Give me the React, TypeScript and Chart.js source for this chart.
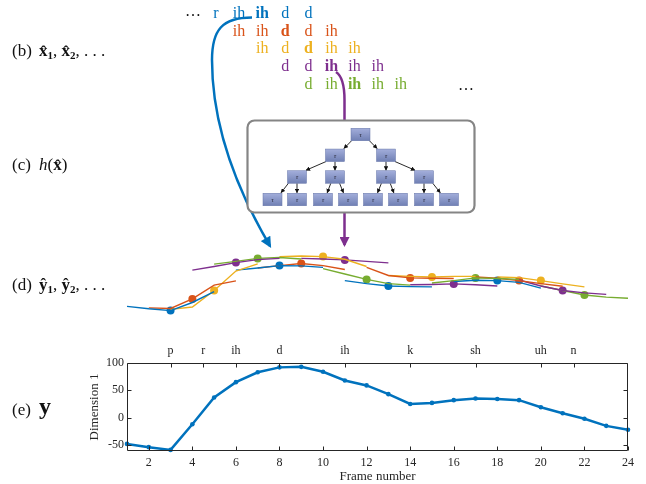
import { useEffect, useRef } from 'react';
import { Chart, registerables } from 'chart.js';

Chart.register(...registerables);

// ---------- (e) panel data ----------
const FRAMES = [1, 2, 3, 4, 5, 6, 7, 8, 9, 10, 11, 12, 13, 14, 15, 16, 17, 18, 19, 20, 21, 22, 23, 24];
const DIM1 = [-48, -54, -59, -12, 37, 65, 83, 92, 93, 84, 68, 59, 43, 25, 27, 32, 35, 34, 32, 19, 8, -2, -15, -22];
const X_TICKS = [2, 4, 6, 8, 10, 12, 14, 16, 18, 20, 22, 24];
const Y_TICKS = [-50, 0, 50, 100];
const PHONE_LABELS = ['p', 'r', 'ih', 'd', 'ih', 'k', 'sh', 'uh', 'n'];
const PHONE_FRAMES = [3, 4.5, 6, 8, 11, 14, 17, 20, 21.5];

// ---------- (d) panel data: predicted 5-frame segments centred on each frame ----------
const PRED_CENTERS = [3, 4, 5, 6, 7, 8, 9, 10, 11, 12, 13, 14, 15, 16, 17, 18, 19, 20, 21, 22];
const PRED_SEGMENTS = [
  [-44, -52, -58, -31, 5],
  [-49, -51, -19, 27, 41],
  [-54, -46, 9, 74, 98],
  [77, 89, 102, 112, 116],
  [97, 106, 116, 119, 114],
  [77, 84, 92, 91, 86],
  [84, 92, 99, 92, 79],
  [122, 124, 122, 113, 89],
  [116, 114, 111, 106, 101],
  [82, 64, 46, 32, 27],
  [42, 32, 24, 22, 21],
  [86, 59, 51, 50, 49],
  [59, 56, 54, 56, 56],
  [28, 29, 31, 28, 24],
  [34, 42, 51, 49, 46],
  [39, 43, 42, 36, 17],
  [54, 50, 42, 32, 23],
  [54, 52, 42, 31, 21],
  [44, 24, 9, 1, -4],
  [24, 9, -6, -13, -17],
];

// ---------- (b) panel text ----------
const ROW_PHONES = [
  ['r', 'ih', 'ih', 'd', 'd'],
  ['ih', 'ih', 'd', 'd', 'ih'],
  ['ih', 'd', 'd', 'ih', 'ih'],
  ['d', 'd', 'ih', 'ih', 'ih'],
  ['d', 'ih', 'ih', 'ih', 'ih'],
];

const COLORS = ['#0072BD', '#D95319', '#EDB120', '#7E2F8E', '#77AC30'];
const SERIF = "'Liberation Serif', 'Times New Roman', serif";
const AX = '#262626';

// tree layout (diagram only)
const NODE_W = 19;
const NODE_H = 12.5;
const TREE_LEVELS: number[][][] = [
  [[360.5, 134.5]],
  [[335, 155.3], [386, 155.3]],
  [[297, 177], [335, 177], [386, 177], [424, 177]],
  [[272.5, 199.5], [297, 199.5], [323, 199.5], [348, 199.5], [373, 199.5], [398, 199.5], [424, 199.5], [449, 199.5]],
];

const boxPlugin = {
  id: 'matlabBox',
  afterDraw(chart: any) {
    const { ctx, chartArea: a, scales } = chart;
    ctx.save();
    ctx.strokeStyle = AX;
    ctx.lineWidth = 1;
    const L = Math.round(a.left) + 0.5;
    const R = Math.round(a.right) - 0.5;
    const T = Math.round(a.top) + 0.5;
    const B = Math.round(a.bottom) - 0.5;
    ctx.beginPath();
    ctx.rect(L, T, R - L, B - T);
    const tl = 4;
    X_TICKS.forEach((v) => {
      const px = Math.round(scales.x.getPixelForValue(v)) + 0.5;
      ctx.moveTo(px, B);
      ctx.lineTo(px, B - tl);
    });
    PHONE_FRAMES.forEach((v) => {
      const px = Math.round(scales.xTop.getPixelForValue(v)) + 0.5;
      ctx.moveTo(px, T);
      ctx.lineTo(px, T + tl);
    });
    Y_TICKS.forEach((v) => {
      const py = Math.round(scales.y.getPixelForValue(v)) + 0.5;
      ctx.moveTo(L, py);
      ctx.lineTo(L + tl, py);
      ctx.moveTo(R, py);
      ctx.lineTo(R - tl, py);
    });
    ctx.stroke();
    ctx.restore();
  },
};

export default function App() {
  const dRef = useRef<HTMLCanvasElement>(null);
  const eRef = useRef<HTMLCanvasElement>(null);

  useEffect(() => {
    const segDatasets: any[] = PRED_SEGMENTS.map((vals, k) => ({
      data: vals.map((y, i) => ({ x: PRED_CENTERS[k] - 2 + i, y })),
      borderColor: COLORS[k % 5],
      backgroundColor: COLORS[k % 5],
      borderWidth: 1.4,
      pointRadius: 0,
      tension: 0,
      clip: false,
    }));
    segDatasets.push({
      data: PRED_CENTERS.map((c, k) => ({ x: c, y: PRED_SEGMENTS[k][2] })),
      showLine: false,
      pointRadius: 4,
      pointBorderWidth: 0,
      pointBackgroundColor: PRED_CENTERS.map((_, k) => COLORS[k % 5]),
      borderColor: 'transparent',
      clip: false,
    });

    const dChart = new Chart(dRef.current as HTMLCanvasElement, {
      type: 'line',
      data: { datasets: segDatasets },
      options: {
        animation: false,
        responsive: false,
        devicePixelRatio: 1,
        layout: { padding: { left: 127, right: 18, top: 0, bottom: 0 } },
        plugins: { legend: { display: false }, tooltip: { enabled: false } },
        scales: {
          x: { type: 'linear', min: 1, max: 24, display: false },
          y: { type: 'linear', min: -76, max: 164, display: false },
        },
      },
    } as any);

    const tickFont = { family: SERIF, size: 12 };
    const eChart = new Chart(eRef.current as HTMLCanvasElement, {
      type: 'line',
      data: {
        datasets: [
          {
            data: FRAMES.map((f, i) => ({ x: f, y: DIM1[i] })),
            borderColor: COLORS[0],
            backgroundColor: COLORS[0],
            borderWidth: 2.5,
            pointRadius: 2.3,
            pointBorderWidth: 0,
            tension: 0,
            clip: false,
            xAxisID: 'x',
            yAxisID: 'y',
          },
        ],
      },
      options: {
        animation: false,
        responsive: false,
        devicePixelRatio: 1,
        layout: { padding: { left: 0, right: 18, top: 0, bottom: 0 } },
        plugins: { legend: { display: false }, tooltip: { enabled: false } },
        scales: {
          x: {
            type: 'linear',
            position: 'bottom',
            min: 1,
            max: 24,
            grid: { display: false, drawTicks: false },
            border: { display: false },
            ticks: { padding: 5, font: tickFont, color: AX, maxRotation: 0, autoSkip: false },
            afterBuildTicks: (s: any) => {
              s.ticks = X_TICKS.map((v) => ({ value: v }));
            },
            afterFit: (s: any) => {
              s.height = 33;
            },
            title: {
              display: true,
              text: 'Frame number',
              font: { family: SERIF, size: 13 },
              color: AX,
              padding: { top: 0, bottom: 0 },
            },
          },
          xTop: {
            type: 'linear',
            position: 'top',
            min: 1,
            max: 24,
            grid: { display: false, drawTicks: false },
            border: { display: false },
            ticks: {
              padding: 5,
              font: tickFont,
              color: AX,
              maxRotation: 0,
              autoSkip: false,
              callback: (v: any) => {
                const i = PHONE_FRAMES.indexOf(Number(v));
                return i >= 0 ? PHONE_LABELS[i] : '';
              },
            },
            afterBuildTicks: (s: any) => {
              s.ticks = PHONE_FRAMES.map((v) => ({ value: v }));
            },
            afterFit: (s: any) => {
              s.height = 23;
            },
          },
          y: {
            type: 'linear',
            position: 'left',
            min: -61,
            max: 100,
            grid: { display: false, drawTicks: false },
            border: { display: false },
            ticks: { padding: 3, font: tickFont, color: AX },
            afterBuildTicks: (s: any) => {
              s.ticks = Y_TICKS.map((v) => ({ value: v }));
            },
            afterFit: (s: any) => {
              s.width = 127;
            },
            title: {
              display: true,
              text: 'Dimension 1',
              font: { family: SERIF, size: 13 },
              color: AX,
              padding: { top: 87, bottom: 0 },
            },
          },
        },
      },
      plugins: [boxPlugin],
    } as any);

    return () => {
      dChart.destroy();
      eChart.destroy();
    };
  }, []);

  const colX = (i: number) => 216 + 23.1 * i;
  const rowY = (k: number) => 18.2 + 17.6 * k;

  const edges: { x1: number; y1: number; x2: number; y2: number }[] = [];
  for (let l = 0; l < TREE_LEVELS.length - 1; l++) {
    TREE_LEVELS[l].forEach((p, pi) => {
      [TREE_LEVELS[l + 1][pi * 2], TREE_LEVELS[l + 1][pi * 2 + 1]].forEach((c) => {
        const dx = c[0] - p[0];
        const shift = Math.sign(dx) * Math.min(9, Math.abs(dx) * 0.35);
        edges.push({ x1: p[0] + shift, y1: p[1] + NODE_H / 2, x2: c[0] - shift, y2: c[1] - NODE_H / 2 - 0.5 });
      });
    });
  }

  return (
    <div style={{ position: 'absolute', left: 0, top: 0, width: 646, height: 484, background: '#fff', overflow: 'hidden' }}>
      <canvas ref={dRef} width={646} height={80} style={{ position: 'absolute', left: 0, top: 240, width: 646, height: 80 }} />
      <canvas ref={eRef} width={646} height={144} style={{ position: 'absolute', left: 0, top: 340, width: 646, height: 144 }} />
      <svg
        width={646}
        height={484}
        style={{ position: 'absolute', left: 0, top: 0, pointerEvents: 'none' }}
        fontFamily={SERIF}
      >
        <defs>
          <marker id="arrBlue" viewBox="0 0 10 10" refX="8" refY="5" markerWidth="12" markerHeight="11" markerUnits="userSpaceOnUse" orient="auto">
            <path d="M0,0 L10,5 L0,10 z" fill="#0072BD" />
          </marker>
          <marker id="arrPurple" viewBox="0 0 10 10" refX="8" refY="5" markerWidth="11" markerHeight="10" markerUnits="userSpaceOnUse" orient="auto">
            <path d="M0,0 L10,5 L0,10 z" fill="#7E2F8E" />
          </marker>
          <marker id="arrBlack" viewBox="0 0 10 10" refX="9" refY="5" markerWidth="4.5" markerHeight="4.5" markerUnits="userSpaceOnUse" orient="auto">
            <path d="M0,0 L10,5 L0,10 z" fill="#111" />
          </marker>
          <linearGradient id="nodeGrad" x1="0" y1="0" x2="0" y2="1">
            <stop offset="0" stopColor="#a3aedb" />
            <stop offset="1" stopColor="#7080b4" />
          </linearGradient>
        </defs>

        {/* left panel labels */}
        <text x={12} y={56} fontSize={17} fill="#111">(b)</text>
        <text x={39} y={56} fontSize={17} fill="#111">
          <tspan fontWeight="bold">{'x\u0302'}</tspan>
          <tspan fontWeight="bold" fontSize={11} dy={3}>1</tspan>
          <tspan dy={-3}>, </tspan>
          <tspan fontWeight="bold">{'x\u0302'}</tspan>
          <tspan fontWeight="bold" fontSize={11} dy={3}>2</tspan>
          <tspan dy={-3}>, . . .</tspan>
        </text>
        <text x={12} y={170} fontSize={17} fill="#111">(c)</text>
        <text x={39} y={170} fontSize={17} fill="#111">
          <tspan fontStyle="italic">h</tspan>
          <tspan>(</tspan>
          <tspan fontWeight="bold">{'x\u0302'}</tspan>
          <tspan>)</tspan>
        </text>
        <text x={12} y={290} fontSize={17} fill="#111">(d)</text>
        <text x={39} y={290} fontSize={17} fill="#111">
          <tspan fontWeight="bold">{'\u0177'}</tspan>
          <tspan fontWeight="bold" fontSize={11} dy={3}>1</tspan>
          <tspan dy={-3}>, </tspan>
          <tspan fontWeight="bold">{'\u0177'}</tspan>
          <tspan fontWeight="bold" fontSize={11} dy={3}>2</tspan>
          <tspan dy={-3}>, . . .</tspan>
        </text>
        <text x={12} y={415} fontSize={17} fill="#111">(e)</text>
        <text x={39} y={414} fontSize={24} fontWeight="bold" fill="#111">y</text>

        {/* (b) phone rows */}
        <text x={185} y={15.5} fontSize={16} fill="#111">{'\u2026'}</text>
        {ROW_PHONES.map((row, k) =>
          row.map((ph, i) => (
            <text
              key={`${k}-${i}`}
              x={colX(k + i)}
              y={rowY(k)}
              fontSize={16}
              textAnchor="middle"
              fontWeight={i === 2 ? 'bold' : 'normal'}
              fill={COLORS[k]}
            >
              {ph}
            </text>
          ))
        )}
        <text x={458} y={90} fontSize={16} fill="#111">{'\u2026'}</text>

        {/* arrows from phones to predictions */}
        <path d="M 252 17.5 C 222 17.5 212 30 212 60 C 212 130 240 195 270 246" stroke="#0072BD" strokeWidth={2.5} fill="none" markerEnd="url(#arrBlue)" />
        <path d="M 336 72 C 342 76 344.5 86 344.5 100 L 344.5 245" stroke="#7E2F8E" strokeWidth={2.5} fill="none" markerEnd="url(#arrPurple)" />

        {/* (c) tree box */}
        <rect x={247.5} y={120.5} width={227} height={92} rx={7} ry={7} fill="#fff" stroke="#858585" strokeWidth={2.2} />
        {edges.map((e, i) => (
          <line key={`e${i}`} x1={e.x1} y1={e.y1} x2={e.x2} y2={e.y2} stroke="#111" strokeWidth={0.9} markerEnd="url(#arrBlack)" />
        ))}
        {TREE_LEVELS.flat().map((n, i) => (
          <g key={`n${i}`}>
            <rect x={n[0] - NODE_W / 2} y={n[1] - NODE_H / 2} width={NODE_W} height={NODE_H} fill="url(#nodeGrad)" stroke="#6575a8" strokeWidth={0.5} />
            <text x={n[0]} y={n[1] + 2.3} fontSize={7} fontStyle="italic" textAnchor="middle" fill="#2a2a3a">
              {'\u03c4'}
            </text>
          </g>
        ))}
      </svg>
    </div>
  );
}
